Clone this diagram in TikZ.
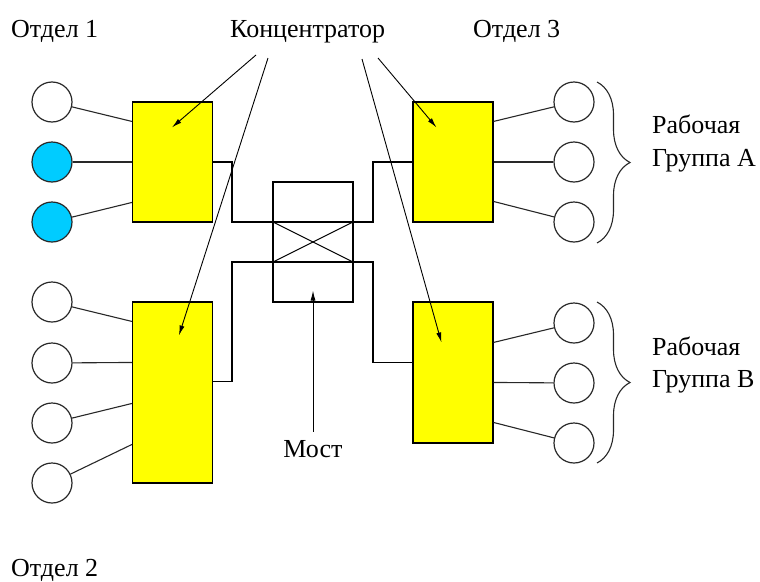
\documentclass[tikz,border=0pt]{standalone}
\usepackage{fontspec}
\setmainfont{Liberation Serif}
\usetikzlibrary{arrows.meta,calc,decorations.pathreplacing}

\definecolor{hubyellow}{RGB}{255,255,0}
\definecolor{pcblue}{RGB}{0,204,255}
\definecolor{outline}{RGB}{40,40,40}

\tikzset{
  pc/.style={circle,draw=outline,line width=1.2pt,fill=white,minimum size=40pt,inner sep=0pt},
  pcfilled/.style={pc,fill=pcblue},
  hub/.style={rectangle,draw=black,line width=1.1pt,fill=hubyellow,minimum width=80pt,inner sep=0pt},
  bridgebox/.style={rectangle,draw=black,line width=1.1pt,fill=white,minimum width=80pt,minimum height=120pt,inner sep=0pt},
  wire/.style={draw=black,line width=1.1pt},
  link/.style={draw=outline,line width=1.1pt},
  pointer/.style={draw=black,line width=0.9pt,-{Latex[length=10pt,width=5pt]}},
  grpbrace/.style={draw=outline,line width=1.1pt,decorate,decoration={brace,amplitude=33pt}},
  lbl/.style={inner sep=0pt,anchor=base west,font=\fontsize{26}{30}\selectfont},
}

\begin{document}
\begin{tikzpicture}[x=1pt,y=-1pt]
\useasboundingbox (0,0) rectangle (760,581);

% labels
\node[lbl] (d1) at (11,37) {Отдел 1};
\node[lbl] (kc) at (230,37) {Концентратор};
\node[lbl] (d3) at (473,37) {Отдел 3};
\node[lbl] (d2) at (11,576) {Отдел 2};
\node[lbl] (ga1) at (652,133) {Рабочая};
\node[lbl] (ga2) at (652,166) {Группа А};
\node[lbl] (gb1) at (652,355) {Рабочая};
\node[lbl] (gb2) at (652,387) {Группа В};
\node[lbl,anchor=base] (most) at (313,457) {Мост};

% hubs and bridge
\node[hub,minimum height=120pt] (h1) at (172.5,162) {};
\node[hub,minimum height=181pt] (h2) at (172.5,392.5) {};
\node[hub,minimum height=120pt] (h3) at (453,162) {};
\node[hub,minimum height=141pt] (h4) at (453,372.5) {};
\node[bridgebox] (br) at (313,242) {};

% bridge cross
\coordinate (xa) at (273,222);
\coordinate (xb) at (353,222);
\coordinate (xc) at (273,262);
\coordinate (xd) at (353,262);
\draw[wire] (xa) -- (xd);
\draw[wire] (xc) -- (xb);

% wiring between hubs through the bridge
\coordinate (w1) at (232,222);
\coordinate (w2) at (373,222);
\coordinate (w3) at (232,262);
\coordinate (w4) at (373,262);
\draw[wire] (h1.east) -| (w1) -- (w2) |- (h3.west);
\draw[wire] ($(h2.north east)+(0,80)$) -| (w3) -- (w4) |- ($(h4.north west)+(0,61)$);

% workstations, department 1
\node[pc] (c1) at (52,102) {};
\node[pcfilled] (c2) at (52,162) {};
\node[pcfilled] (c3) at (52,222) {};
\draw[link] (c1) -- ($(h1.north west)+(0,20)$);
\draw[link] (c2) -- (h1.west);
\draw[link] (c3) -- ($(h1.north west)+(0,101)$);

% workstations, department 2
\node[pc] (c4) at (52,302) {};
\node[pc] (c5) at (52,363) {};
\node[pc] (c6) at (52,423) {};
\node[pc] (c7) at (52,483) {};
\draw[link] (c4) -- ($(h2.north west)+(0,20)$);
\draw[link] (c5) -- ($(h2.north west)+(0,61)$);
\draw[link] (c6) -- ($(h2.north west)+(0,102)$);
\draw[link] (c7) -- ($(h2.north west)+(0,143)$);

% workgroup A
\node[pc] (c8) at (574,102) {};
\node[pc] (c9) at (574,162) {};
\node[pc] (c10) at (574,222) {};
\draw[link] ($(h3.north east)+(0,20)$) -- (c8);
\draw[link] (h3.east) -- (c9);
\draw[link] ($(h3.north east)+(0,100)$) -- (c10);

% workgroup B
\node[pc] (c11) at (574,323) {};
\node[pc] (c12) at (574,383) {};
\node[pc] (c13) at (574,443) {};
\draw[link] ($(h4.north east)+(0,41)$) -- (c11);
\draw[link] ($(h4.north east)+(0,81)$) -- (c12);
\draw[link] ($(h4.north east)+(0,121)$) -- (c13);

% group braces
\coordinate (ba1) at (597,82);
\coordinate (ba2) at (597,243);
\coordinate (bb1) at (597,302);
\coordinate (bb2) at (597,463);
\draw[grpbrace] (ba1) -- (ba2);
\draw[grpbrace] (bb1) -- (bb2);

% pointers from the hub label
\coordinate (k1) at (256,55);
\coordinate (k2) at (268,58);
\coordinate (k3) at (362,59);
\coordinate (k4) at (378,58);
\draw[pointer] (k1) -- ($(h1.north west)+(40,26)$);
\draw[pointer] (k2) -- ($(h2.north west)+(47,34)$);
\draw[pointer] (k3) -- ($(h4.north west)+(29,41)$);
\draw[pointer] (k4) -- ($(h3.north west)+(24,26)$);

% pointer to the bridge
\draw[pointer] ([yshift=8pt]most.north) -- ($(br.south)+(0,-12)$);
\end{tikzpicture}
\end{document}
